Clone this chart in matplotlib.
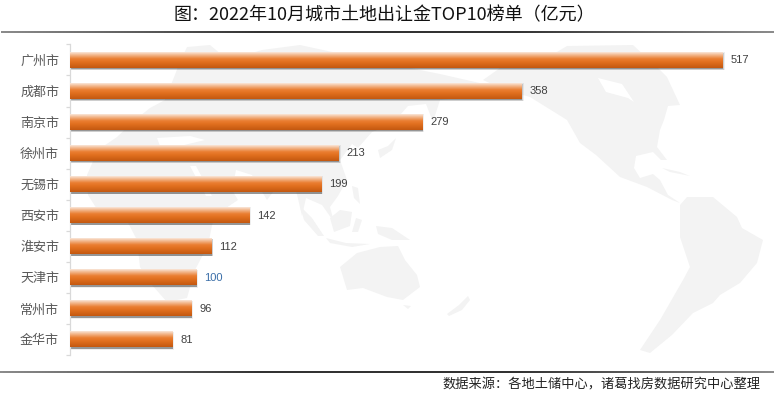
import numpy as np
import matplotlib
matplotlib.use("Agg")
import matplotlib.pyplot as plt
from matplotlib.colors import LinearSegmentedColormap

plt.rcParams['font.family'] = ['Noto Sans CJK SC', 'DejaVu Sans']

cities = ['广州市', '成都市', '南京市', '徐州市', '无锡市', '西安市', '淮安市', '天津市', '常州市', '金华市']
values = [517, 358, 279, 213, 199, 142, 112, 100, 96, 81]
title_text = '图：2022年10月城市土地出让金TOP10榜单（亿元）'
source_text = '数据来源：各地土储中心，诸葛找房数据研究中心整理'

W, H = 774, 395
fig = plt.figure(figsize=(W / 100, H / 100), dpi=100, facecolor='white')

# ---- full-figure pixel layer: faint world map, rules, title, source
bg = fig.add_axes([0, 0, 1, 1])
bg.set_xlim(0, W)
bg.set_ylim(H, 0)
bg.axis('off')

LAND = '#f3f3f3'
land = [
    # Eurasia + Africa
    [(117, 137), (135, 120), (150, 108), (165, 100), (180, 62), (187, 47), (210, 45), (228, 60), (262, 50),
     (300, 45), (360, 58), (400, 66), (440, 74), (484, 84), (470, 96), (440, 100), (433, 122), (426, 104),
     (408, 106), (392, 124), (372, 132), (358, 148), (352, 144), (340, 160), (347, 180), (338, 196), (330, 207),
     (334, 222), (322, 205), (306, 198), (302, 216), (296, 190), (282, 180), (267, 200), (252, 175), (236, 170),
     (232, 190), (238, 200), (214, 216), (208, 245), (195, 270), (187, 298), (167, 302), (152, 285), (140, 267),
     (137, 240), (124, 215), (100, 214), (88, 195), (87, 175), (98, 150)],
    # Australia
    [(340, 267), (357, 253), (380, 247), (398, 246), (405, 260), (417, 275), (420, 287), (403, 300), (387, 297),
     (363, 288), (347, 290)],
    [(403, 305), (411, 306), (408, 309)],
    # New Zealand
    [(447, 314), (459, 305), (468, 296), (470, 300), (462, 310), (449, 316)],
    # Indonesia / Philippines / New Guinea
    [(300, 206), (312, 218), (324, 236), (318, 236), (304, 220)],
    [(326, 238), (346, 243), (370, 244), (352, 247), (330, 243)],
    [(330, 218), (340, 210), (352, 212), (350, 226), (334, 232)],
    [(356, 218), (362, 220), (358, 232), (352, 232)],
    [(376, 226), (392, 228), (410, 240), (392, 240), (378, 234)],
    [(352, 186), (358, 188), (360, 204), (354, 198)],
    [(378, 150), (388, 146), (396, 138), (392, 150), (380, 158)],
    # North America
    [(483, 80), (500, 68), (540, 62), (567, 46), (633, 45), (660, 70), (667, 77), (680, 105), (668, 106),
     (664, 120), (660, 130), (657, 147), (667, 160), (661, 160), (653, 152), (636, 156), (634, 168), (640, 178),
     (653, 174), (660, 180), (668, 195), (680, 203), (672, 200), (647, 187), (620, 177), (596, 155), (580, 143),
     (567, 120), (530, 97), (505, 90)],
    # Caribbean
    [(662, 168), (680, 172), (690, 176), (670, 172)],
    # South America
    [(680, 205), (687, 197), (713, 197), (737, 217), (742, 228), (763, 240), (757, 263), (740, 283), (720, 295),
     (713, 303), (693, 313), (672, 335), (650, 353), (640, 350), (660, 320), (683, 280), (690, 267), (680, 237)],
]
for poly in land:
    xs, ys = zip(*poly)
    bg.fill(xs, ys, color=LAND, lw=0, zorder=1)

water = [
    [(598, 78), (622, 84), (634, 102), (628, 98), (606, 92)],      # Hudson Bay
    [(157, 138), (190, 136), (205, 140), (180, 146), (160, 146)],  # Mediterranean
    [(190, 166), (196, 166), (212, 196), (206, 196)],              # Red Sea
    [(190, 118), (222, 116), (200, 124)],                          # gap in Europe
]
for poly in water:
    xs, ys = zip(*poly)
    bg.fill(xs, ys, color='white', lw=0, zorder=2)

rule = LinearSegmentedColormap.from_list('rule', ['#8c8c8c', '#333333', '#333333', '#8c8c8c'])
rule_grad = np.linspace(0, 1, 256).reshape(1, -1)
bg.imshow(rule_grad, cmap=rule, extent=(1, 774, 32.7, 31.3), aspect='auto', zorder=3)
bg.imshow(rule_grad, cmap=rule, extent=(0, 774, 373, 371.6), aspect='auto', zorder=3)
bg.set_xlim(0, W)
bg.set_ylim(H, 0)

bg.text(384, 15.5, title_text, fontsize=13, color='#111111', ha='center', va='center', zorder=5)
bg.text(760, 384.5, source_text, fontsize=9.5, color='#222222', ha='right', va='center', zorder=5)

# ---- chart layer
left, right, top, bottom = 69.5, 770.0, 44.4, 355.0
ax = fig.add_axes([left / W, 1 - bottom / H, (right - left) / W, (bottom - top) / H])
ax.patch.set_alpha(0)
PX_PER_UNIT = 1.2625
ax.set_xlim(0, (right - left) / PX_PER_UNIT)
ax.set_ylim(len(cities) - 0.5, -0.5)

y = np.arange(len(cities))
bar_h = 0.5
px_y = 1 / 31.06
px_x = 1 / PX_PER_UNIT

# soft shadow below/right of each bar
for grow, alpha in [(2.4, 0.08), (1.6, 0.16), (0.8, 0.34)]:
    ax.barh(y + 1.2 * px_y, np.array(values) + grow * px_x, height=bar_h + grow * px_y,
            color='#2a2a2a', alpha=alpha, lw=0, zorder=2)

grad_cmap = LinearSegmentedColormap.from_list(
    'bar', [(0, '#fae6d8'), (0.16, '#f3bb93'), (0.42, '#ea7e32'), (0.62, '#e2701f'), (1, '#c45810')])
grad = np.linspace(0, 1, 64).reshape(-1, 1)
bars = ax.barh(y, values, height=bar_h, color='#e2701f', lw=0, zorder=3)
for b in bars:
    x0, y0, w, h = b.get_x(), b.get_y(), b.get_width(), b.get_height()
    ax.imshow(grad, cmap=grad_cmap, vmin=0, vmax=1, aspect='auto',
              extent=(x0, x0 + w, y0 + h, y0), zorder=4)
ax.set_xlim(0, (right - left) / PX_PER_UNIT)
ax.set_ylim(len(cities) - 0.5, -0.5)

label_colors = ['#404040'] * len(values)
label_colors[7] = '#3a6ea8'
for yi, v, c in zip(y, values, label_colors):
    ax.text(v + 8.5 * px_x, yi + 0.3 * px_y, str(v), fontsize=8, family='Liberation Sans', color=c,
            ha='left', va='center', zorder=5)

for s in ['top', 'right', 'bottom']:
    ax.spines[s].set_visible(False)
ax.spines['left'].set_color('#d9d9d9')
ax.spines['left'].set_linewidth(0.9)
ax.set_xticks([])
ax.set_yticks(np.arange(len(cities) + 1) - 0.5, minor=True)
ax.tick_params(axis='y', which='minor', length=3.2, width=0.9, color='#d9d9d9')
ax.set_yticks(y)
ax.set_yticklabels(cities, fontsize=9.4, color='#595959')
ax.tick_params(axis='y', which='major', length=0, pad=7.5)

fig.savefig('out.png', dpi=100)
